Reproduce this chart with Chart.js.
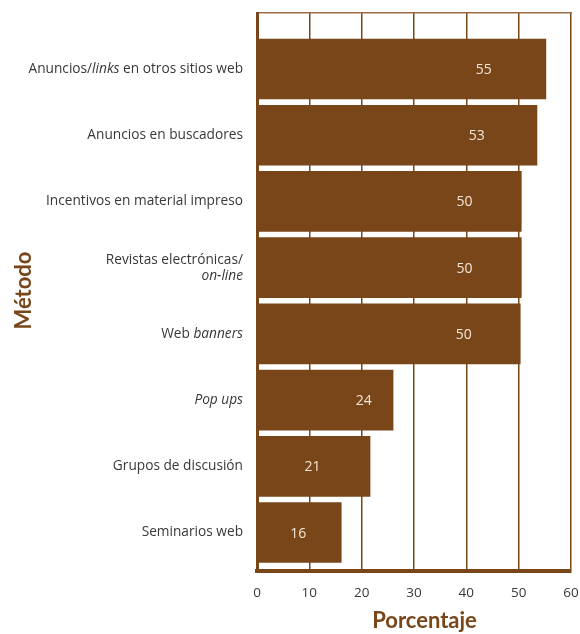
<!DOCTYPE html>
<html><head><meta charset="utf-8">
<script src="https://cdn.jsdelivr.net/npm/chart.js@4"></script>
<style>html,body{margin:0;padding:0;background:#fff;}#wrap{width:580px;height:634px;}</style>
</head><body><div id="wrap"><canvas id="c" width="580" height="634"></canvas></div>
<script>
const categories = [
  "Anuncios/<i>links</i> en otros sitios web",
  "Anuncios en buscadores",
  "Incentivos en material impreso",
  "Revistas electrónicas/\n<i>on-line</i>",
  "Web <i>banners</i>",
  "<i>Pop ups</i>",
  "Grupos de discusión",
  "Seminarios web"
];
const barLengths = [55.2, 53.5, 50.5, 50.5, 50.3, 26.0, 21.6, 16.1];
const valueLabels = ["55", "53", "50", "50", "50", "24", "21", "16"];
const xTicks = [0, 10, 20, 30, 40, 50, 60];
const xTitle = "Porcentaje";
const yTitle = "Método";

const BROWN = "#79461a";
const TEXT = "#383838";
const FONT = "'Open Sans', 'Noto Sans', sans-serif";
const TFONT = "Lato, 'Open Sans', sans-serif";

function parseSegs(line) {
  const segs = [];
  const re = /<i>(.*?)<\/i>|([^<]+)/g;
  let m;
  while ((m = re.exec(line)) !== null) {
    if (m[1] !== undefined) segs.push({t: m[1], it: true});
    else segs.push({t: m[2], it: false});
  }
  return segs;
}

const drawPlugin = {
  id: "customText",
  afterDraw(chart) {
    const ctx = chart.ctx;
    const xs = chart.scales.x, ys = chart.scales.y;
    ctx.save();
    ctx.textBaseline = "middle";
    ctx.fillStyle = TEXT;
    const rightX = 243, lh = 16, fs = "13.7px ";
    categories.forEach((cat, i) => {
      const cy = ys.getPixelForValue(i);
      const lines = cat.split("\n");
      const y0 = cy - (lines.length - 1) * lh / 2;
      lines.forEach((ln, k) => {
        const segs = parseSegs(ln);
        let total = 0;
        segs.forEach(s => { ctx.font = (s.it ? "italic " : "") + fs + FONT; s.w = ctx.measureText(s.t).width; total += s.w; });
        let x = rightX - total;
        ctx.textAlign = "left";
        segs.forEach(s => { ctx.font = (s.it ? "italic " : "") + fs + FONT; ctx.fillText(s.t, x, y0 + k * lh); x += s.w; });
      });
    });
    const meta = chart.getDatasetMeta(0);
    ctx.font = "14px " + FONT;
    ctx.fillStyle = "#f3e6d8";
    ctx.textAlign = "center";
    meta.data.forEach((el, i) => {
      const v = barLengths[i];
      const f = v < 23 ? 0.49 : 0.785;
      ctx.fillText(valueLabels[i], xs.getPixelForValue(v * f), el.y + 1);
    });
    ctx.fillStyle = BROWN;
    ctx.font = "bold 22px " + TFONT;
    ctx.textAlign = "center";
    ctx.textBaseline = "alphabetic";
    ctx.fillText(xTitle, 424.5, 628);
    ctx.translate(31, 290.5);
    ctx.rotate(-Math.PI / 2);
    ctx.fillText(yTitle, 0, 0);
    ctx.restore();
  }
};

new Chart(document.getElementById("c"), {
  type: "bar",
  data: {
    datasets: [{
      data: barLengths.map((v, i) => ({x: v, y: i})),
      backgroundColor: BROWN,
      borderWidth: 0,
      barThickness: 60,
      xAxisID: "x",
      yAxisID: "y"
    }]
  },
  options: {
    indexAxis: "y",
    responsive: false,
    animation: false,
    devicePixelRatio: 1,
    layout: {padding: {left: 0, right: 9, top: 13, bottom: 0}},
    plugins: {legend: {display: false}, tooltip: {enabled: false}},
    scales: {
      x: {
        type: "linear", position: "bottom", min: 0, max: 60,
        afterBuildTicks: s => { s.ticks = xTicks.map(v => ({value: v})); },
        grid: {color: BROWN, lineWidth: 1.5, drawTicks: true, tickLength: 14, tickColor: "rgba(0,0,0,0)"},
        border: {display: true, color: BROWN, width: 4},
        ticks: {padding: 0, color: TEXT, font: {family: FONT, size: 13.5}},
        afterFit: s => { s.height = 63; }
      },
      x2: {
        type: "linear", position: "top", min: 0, max: 60,
        grid: {display: false, drawTicks: false},
        ticks: {display: false},
        border: {display: true, color: "#9c6c44", width: 1.5},
        afterFit: s => { s.height = 0; }
      },
      y: {
        type: "linear", position: "left", min: -0.846, max: 7.581, reverse: true,
        offset: false,
        grid: {display: false, drawTicks: false, offset: false},
        ticks: {display: false},
        border: {display: true, color: BROWN, width: 3},
        afterFit: s => { s.width = 257; }
      }
    }
  },
  plugins: [drawPlugin]
});
</script>
</body></html>
